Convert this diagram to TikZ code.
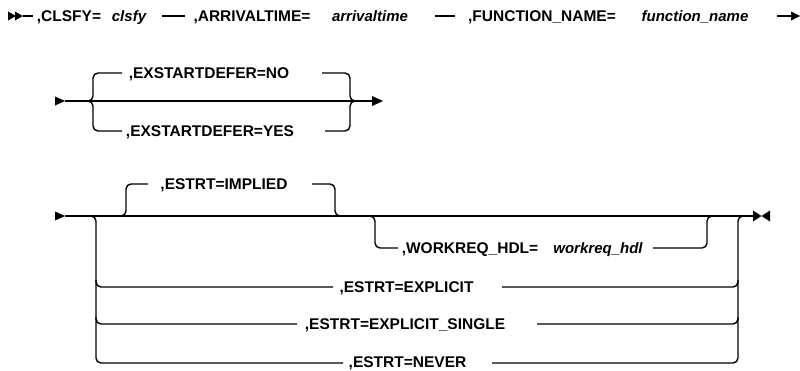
\documentclass[tikz,border=0pt]{standalone}
\usepackage{fontspec}
\setmainfont{Liberation Sans}
\begin{document}
\begin{tikzpicture}[x=1pt,y=-1pt,
  kw/.style={font=\fontsize{15.5}{18}\selectfont\bfseries, inner sep=0pt, anchor=base},
  var/.style={font=\fontsize{15}{18}\selectfont\bfseries\itshape, inner sep=0pt, anchor=base},
  track/.style={line width=1.4pt, rounded corners=5pt},
  plain/.style={line width=1.4pt},
  tip/.style={fill=black}]
\useasboundingbox (0,0) rectangle (800,370);

% ---------- line 1 ----------
\node[kw]  (t1) at (69,21.5)  {,CLSFY=};
\node[var] (v1) at (129,21.5) {clsfy};
\node[kw]  (t2) at (252,21.5) {,ARRIVALTIME=};
\node[var] (v2) at (370,21.5) {arrivaltime};
\node[kw]  (t3) at (542,21.5) {,FUNCTION\_NAME=};
\node[var] (v3) at (695,21.5) {function\_name};
\coordinate (s1a) at (8,16);  \coordinate (s1b) at (15,16);
\coordinate (s1c) at (23,16); \coordinate (s1d) at (33,16);
\fill[tip] (s1a) ++(0,-4.5) -- ++(8,4.5) -- ++(-8,4.5) -- cycle;
\fill[tip] (s1b) ++(0,-4.5) -- ++(8,4.5) -- ++(-8,4.5) -- cycle;
\draw[plain] (s1c) -- (s1d);
\coordinate (d1a) at (162,16); \coordinate (d1b) at (185,16);
\draw[plain] (d1a) -- (d1b);
\coordinate (d2a) at (435,16); \coordinate (d2b) at (455,16);
\draw[plain] (d2a) -- (d2b);
\coordinate (e1a) at (777,16); \coordinate (e1b) at (792,16); \coordinate (e1c) at (800,16);
\draw[plain] (e1a) -- (e1b);
\fill[tip] (e1c) -- ++(-9,-4.5) -- ++(0,9) -- cycle;

% ---------- line 2 ----------
\coordinate (s2) at (55,101);  \coordinate (s2b) at (65,101);
\coordinate (c2l) at (87,101); \coordinate (c2r) at (356,101);
\coordinate (e2) at (372,101);
\fill[tip] (s2) ++(0,-4.5) -- ++(10,4.5) -- ++(-10,4.5) -- cycle;
\draw[plain] (s2b) -- (e2);
\fill[tip] (e2) ++(0,-5) -- ++(11,5) -- ++(-11,5) -- cycle;
\node[kw] (no)  at (209,78.5)  {,EXSTARTDEFER=NO};
\node[kw] (yes) at (210,136.5) {,EXSTARTDEFER=YES};
\draw[track] (122,73) -- (93,73) -- (93,101) -- (c2l);
\draw[track] (122,131) -- (93,131) -- (93,101) -- (c2l);
\draw[track] (322,73) -- (350,73) -- (350,101) -- (c2r);
\draw[track] (325,131) -- (350,131) -- (350,101) -- (c2r);

% ---------- line 3 ----------
\coordinate (s3) at (55,216); \coordinate (s3b) at (65,216);
\coordinate (e3) at (753,216);
\fill[tip] (s3) ++(0,-4.5) -- ++(10,4.5) -- ++(-10,4.5) -- cycle;
\draw[plain] (s3b) -- (e3);
\fill[tip] (e3) ++(0,-5.5) -- ++(8.5,5.5) -- ++(-8.5,5.5) -- cycle;
\fill[tip] (e3) ++(17,-5.5) -- ++(-8.5,5.5) -- ++(8.5,5.5) -- cycle;

\node[kw]  (impl) at (224,189.5)   {,ESTRT=IMPLIED};
\node[kw]  (wrk)  at (470,253.5)   {,WORKREQ\_HDL=};
\node[var] (wrkv) at (598,253.5)   {workreq\_hdl};
\node[kw]  (expl) at (406.5,292.5) {,ESTRT=EXPLICIT};
\node[kw]  (sing) at (405,329.5)   {,ESTRT=EXPLICIT\_SINGLE};
\node[kw]  (nev)  at (407.5,367)   {,ESTRT=NEVER};

% implied bracket
\draw[track] (116,216) -- (126,216) -- (126,184) -- (148,184);
\draw[track] (312,184) -- (335,184) -- (335,216) -- (345,216);
% workreq bracket
\draw[track] (365,216) -- (375,216) -- (375,248) -- (398,248);
\draw[track] (653,248) -- (707,248) -- (707,216) -- (717,216);
% lower choices, left side
\draw[track] (86,216) -- (96,216) -- (96,363) -- (343,363);
\draw[track] (96,280) -- (96,287) -- (333,287);
\draw[track] (96,317) -- (96,324) -- (297,324);
% lower choices, right side
\draw[track] (502,287) -- (738,287) -- (738,280);
\draw[track] (537,324) -- (738,324) -- (738,317);
\draw[track] (492,363) -- (738,363) -- (738,216) -- (748,216);
\end{tikzpicture}
\end{document}
